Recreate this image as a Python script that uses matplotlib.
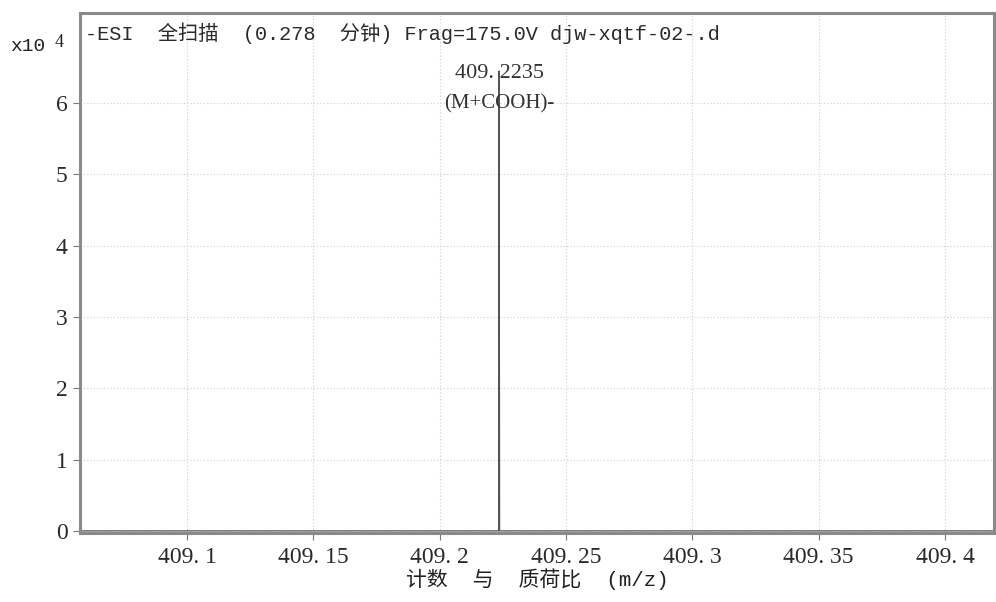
import matplotlib
matplotlib.use('Agg')
import matplotlib.pyplot as plt

# spectrum (counts in units of 1e4)
mz = [409.0576, 409.2233, 409.2235, 409.2237, 409.4194]
counts = [0.0, 0.0, 6.45, 0.0, 0.0]

peak_mz = 409.2235
peak_label = '409. 2235'
peak_ion = '(M+COOH)-'

xticks = [409.1, 409.15, 409.2, 409.25, 409.3, 409.35, 409.4]
xticklabels = ['409. 1', '409. 15', '409. 2', '409. 25', '409. 3', '409. 35', '409. 4']
yticks = [0, 1, 2, 3, 4, 5, 6]

title = '-ESI  全扫描  (0.278  分钟) Frag=175.0V djw-xqtf-02-.d'
xlabel = '计数  与  质荷比  (m/z)'

serif = ['Liberation Serif', 'Noto Sans CJK SC']
mono = ['Liberation Mono', 'Noto Sans CJK SC']
plt.rcParams['font.family'] = serif

fig = plt.figure(figsize=(9.96, 6.02), dpi=100)
ax = fig.add_axes([0.0803, 0.1146, 0.9177, 0.8634])

ax.plot(mz, counts, color='#555555', lw=0.9)

ax.set_xlim(409.0576, 409.4194)
ax.set_ylim(-0.03, 7.26)
ax.set_xticks(xticks)
ax.set_xticklabels(xticklabels)
ax.set_yticks(yticks)
ax.tick_params(axis='both', direction='out', length=5, color='#777777',
               labelsize=17, labelcolor='#2a2a2a')
ax.tick_params(axis='x', pad=5)
ax.tick_params(axis='y', pad=4)

ax.grid(True, color='#cfcfcf', linestyle=(0, (1, 2)), lw=0.8)
for s in ax.spines.values():
    s.set_color('#8a8a8a')
    s.set_linewidth(2.2)

ax.text(0.006, 0.982, title, transform=ax.transAxes, ha='left', va='top',
        fontsize=14.6, color='#2a2a2a', family=mono)
ax.text(peak_mz, 6.42, peak_label, ha='center', va='center', fontsize=16, color='#333333')
ax.text(peak_mz, 5.99, peak_ion, ha='center', va='center', fontsize=15, color='#333333')

fig.text(0.010, 0.922, 'x10', fontsize=14, color='#222222', va='center', family=mono)
fig.text(0.055, 0.930, '4', fontsize=13, color='#222222', va='center')
ax.set_xlabel(xlabel, fontsize=15, color='#222222', labelpad=0, family=mono)

fig.savefig('out.png', dpi=100, facecolor='white')
